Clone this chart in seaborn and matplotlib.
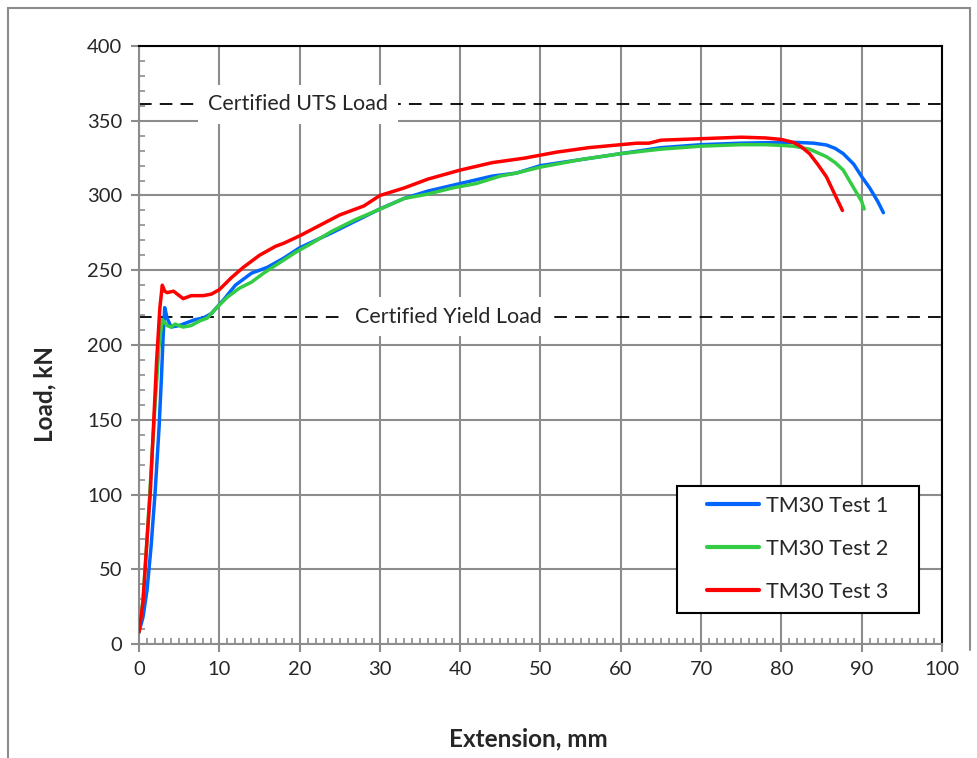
import numpy as np
import pandas as pd
import matplotlib
matplotlib.use("Agg")
import matplotlib.pyplot as plt
from matplotlib.lines import Line2D
from matplotlib.patches import Rectangle
from matplotlib.ticker import MultipleLocator
import seaborn as sns

# ---- data ----
ext1 = [0, 0.5, 1.0, 1.5, 2.0, 2.5, 2.8, 3.0, 3.2, 3.5, 4.0, 5.0, 6.0, 7.0, 8.0, 9.0, 10.5, 12,
        14, 16, 18, 20, 24, 27, 30, 33, 36, 40, 44, 47, 50, 55, 60, 65, 70, 75, 80, 82, 84,
        85.6, 86.7, 87.7, 89, 90, 91, 92, 92.7]
load1 = [8, 18, 36, 65, 101, 145, 179, 205, 225, 218, 212, 213, 215, 217, 218, 221, 230, 240,
         248, 252, 258, 265, 275, 283, 291, 298, 303, 308, 313, 315, 320, 324, 328, 332, 334, 335, 335.5, 335.5, 335,
         333.8, 331.5, 328, 321, 312.6, 305, 296, 288.5]

ext2 = [0, 0.5, 1.0, 1.5, 2.0, 2.5, 2.9, 3.5, 4.0, 4.5, 5.5, 6.5, 7.5, 8.5, 9.5, 11, 12.5,
        14, 15.5, 17.5, 19.5, 21.5, 24, 27, 30.5, 33, 36, 39, 42, 45, 47, 50, 55, 60, 65,
        70, 75, 78, 80, 81.5, 83.5, 85.6, 86.7, 87.7, 88.9, 90, 90.3]
load2 = [8, 30, 70, 115, 160, 200, 217, 213, 212, 214, 212, 213, 216, 218, 224, 232, 238,
         242, 248, 255, 262, 268, 276, 284, 292, 298, 301, 305, 308, 313, 315, 319, 324, 328, 331,
         333, 334, 334, 333.5, 333, 331, 326, 322, 317, 306, 296, 291]

ext3 = [0, 0.5, 1.0, 1.4, 1.8, 2.2, 2.6, 2.9, 3.2, 3.5, 4.3, 5.5, 6.5, 8, 9, 10, 11.5, 13,
        15, 17, 18, 20, 22.5, 25, 28, 30, 33, 36, 40, 44, 48, 52, 56, 60, 62, 63.5, 65,
        70, 75, 78, 80, 81.5, 82.5, 83.5, 84.5, 85.6, 86.8, 87.6]
load3 = [8, 28, 70, 101, 145, 190, 225, 240, 236, 235, 236, 231, 233, 233, 234, 237, 245, 252,
         260, 266, 268, 273, 280, 287, 293, 300, 305, 311, 317, 322, 325, 329, 332, 334, 335, 335, 337,
         338, 339, 338.5, 337.5, 335.5, 332.5, 328, 321, 312.6, 299, 290]

series_names = ["TM30 Test 1", "TM30 Test 2", "TM30 Test 3"]
series_colors = ["#0066FF", "#33CC44", "#FF0000"]
uts_load = 361
yield_load = 219
x_ticks = list(range(0, 101, 10))
y_ticks = list(range(0, 401, 50))

df = pd.concat([
    pd.DataFrame({"Extension": ext1, "Load": load1, "Series": series_names[0]}),
    pd.DataFrame({"Extension": ext2, "Load": load2, "Series": series_names[1]}),
    pd.DataFrame({"Extension": ext3, "Load": load3, "Series": series_names[2]}),
], ignore_index=True)

sns.set_style("white")
plt.rcParams["font.family"] = ["Lato", "DejaVu Sans"]

fig = plt.figure(figsize=(9.78, 7.58), dpi=100)
ax = fig.add_axes([139/978, 1-644/758, (942-139)/978, (644-46)/758])

# grid
ax.set_axisbelow(True)
ax.grid(True, which="major", color="#8c8c8c", linewidth=1.5)

# reference lines with labels
ax.axhline(uts_load, color="black", linestyle=(0, (7, 4.5)), linewidth=1.3, zorder=2)
ax.axhline(yield_load, color="black", linestyle=(0, (7, 4.5)), linewidth=1.3, zorder=2)
ax.text(19.8, uts_load, "Certified UTS Load", ha="center", va="center", fontsize=15.5,
        bbox=dict(facecolor="white", edgecolor="none", pad=7), zorder=3)
ax.text(38.5, yield_load, "Certified Yield Load", ha="center", va="center", fontsize=15.5,
        bbox=dict(facecolor="white", edgecolor="none", pad=7), zorder=3)

sns.lineplot(data=df, x="Extension", y="Load", hue="Series", palette=series_colors,
             estimator=None, sort=False, linewidth=2.5, ax=ax, legend=False, zorder=4)
for ln in ax.get_lines():
    ln.set_solid_capstyle("round")
    ln.set_solid_joinstyle("round")

ax.set_xlim(0, 100)
ax.set_ylim(0, 400)
ax.set_xticks(x_ticks)
ax.set_yticks(y_ticks)
ax.xaxis.set_minor_locator(MultipleLocator(1))
ax.yaxis.set_minor_locator(MultipleLocator(10))
ax.tick_params(which="major", direction="out", length=6, width=1.5, color="#8c8c8c",
               labelsize=14.5, pad=6, bottom=True, left=True)
ax.tick_params(which="minor", direction="in", length=4, width=1.2, color="#8c8c8c",
               bottom=True, left=True)

for s in ["left", "bottom"]:
    ax.spines[s].set_color("#8c8c8c")
    ax.spines[s].set_linewidth(1.5)
for s in ["top", "right"]:
    ax.spines[s].set_color("black")
    ax.spines[s].set_linewidth(1.5)
    ax.spines[s].set_visible(True)

ax.set_xlabel("Extension, mm", fontsize=17.5, fontweight="bold", labelpad=36)
ax.set_ylabel("Load, kN", fontsize=17.5, fontweight="bold", labelpad=22)
ax.xaxis.label.set_x(0.4844)
ax.yaxis.label.set_y(0.418)

# legend box (Excel-like frame) + frameless legend entries
box = Rectangle((0.670, 0.0518), 0.9714 - 0.670, 0.2642 - 0.0518, transform=ax.transAxes,
                facecolor="white", edgecolor="black", linewidth=1.5, zorder=5)
ax.add_patch(box)
handles = [Line2D([0], [0], color=c, linewidth=3) for c in series_colors]
leg = ax.legend(handles, series_names, loc="center", bbox_to_anchor=(0.820, 0.1589),
                fontsize=15.5, frameon=False, handlelength=2.42, handletextpad=0.33,
                labelspacing=1.07, borderpad=0.2, borderaxespad=0)
leg.set_zorder(6)

# figure border
fig.add_artist(Line2D([8/978, 970/978], [1-8/758, 1-8/758], color="#8c8c8c", linewidth=1.5))
fig.add_artist(Line2D([8/978, 8/978], [1-8/758, 0], color="#8c8c8c", linewidth=1.5))
fig.add_artist(Line2D([970/978, 970/978], [1-8/758, 1-650/758], color="#8c8c8c", linewidth=1.5))

fig.savefig("out.png", dpi=100)
